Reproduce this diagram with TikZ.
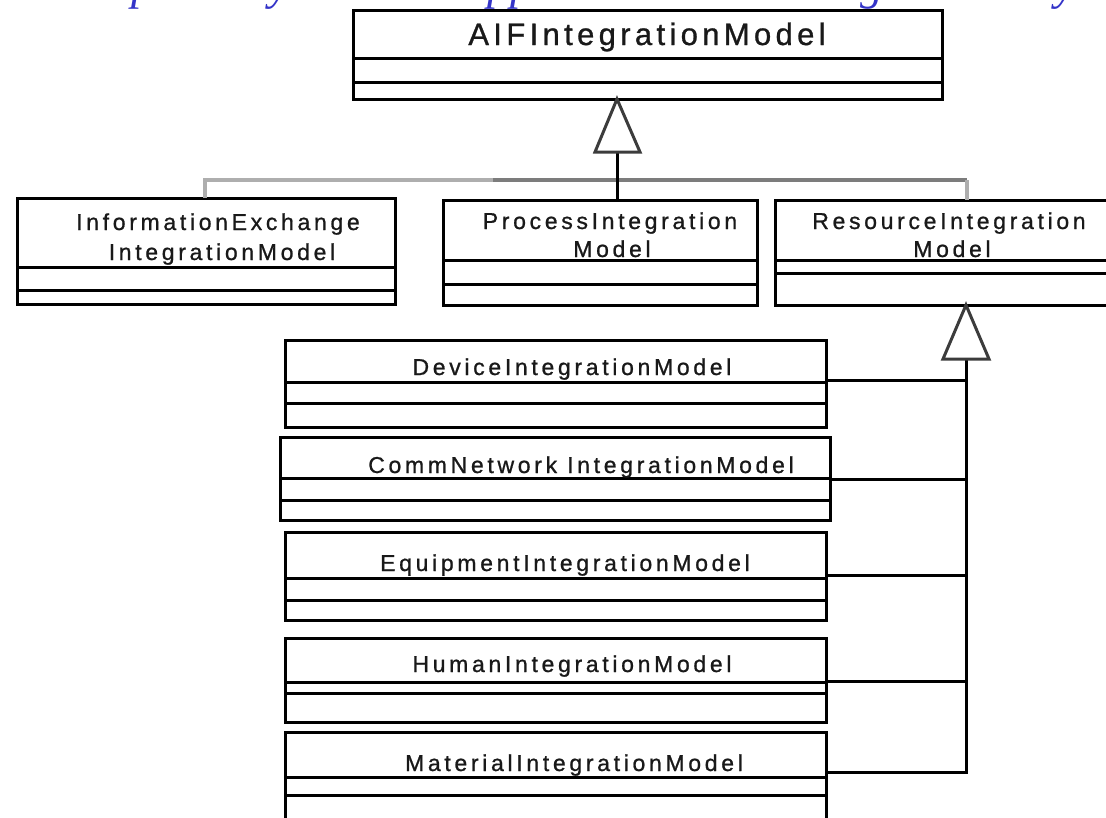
\documentclass[tikz,border=0pt]{standalone}
\usepackage{fontspec}
\setmainfont{Liberation Sans}
\newfontfamily\classfont[LetterSpace=16, FakeBold=0.9]{Liberation Sans}
\newfontfamily\titlefont[LetterSpace=14, FakeBold=0.9]{Liberation Sans}
\newfontfamily\captionfont{Liberation Serif}
\usetikzlibrary{calc}

\definecolor{captionblue}{HTML}{3434C8}
\definecolor{buslight}{HTML}{AEAEAE}
\definecolor{busdark}{HTML}{7C7C7C}
\definecolor{tipgray}{HTML}{3C3C3C}

% one UML class: name, corners (x1,y1) (x2,y2), two compartment lines
\newcommand\umlclass[7]{%
  \node[classbox, minimum width={(#4-#2)*1pt}, minimum height={(#5-#3)*1pt}]
    (#1) at ({(#2+#4)/2},{(#3+#5)/2}) {};
  \draw[divider] (#1.west |- 0,#6) -- (#1.east |- 0,#6);
  \draw[divider] (#1.west |- 0,#7) -- (#1.east |- 0,#7);
}

\begin{document}
\begin{tikzpicture}[x=1pt,y=-1pt,
  classbox/.style={draw=black, line width=3pt, fill=white, inner sep=0pt, outer sep=0pt},
  divider/.style={draw=black, line width=3pt},
  classlabel/.style={inner sep=0pt, anchor=base, text=black!90,
    font=\classfont\fontsize{23}{26}\selectfont},
  titlelabel/.style={inner sep=0pt, anchor=base, text=black!90,
    font=\titlefont\fontsize{31}{36}\selectfont},
  capglyph/.style={inner sep=0pt, anchor=base, text=captionblue,
    font=\captionfont\itshape\fontsize{46}{50}\selectfont},
  genhead/.style={draw=tipgray, fill=white, line width=3pt, line join=miter},
  stem/.style={draw=black, line width=3pt},
  busline/.style={line width=4pt},
]
\useasboundingbox (0,0) rectangle (1106,817);
\clip (0,0) rectangle (1106,817);

% caption line running off the top edge
\node[capglyph] (capA) at (143,-1) {p};
\node[capglyph] (capB) at (280,-1) {y};
\node[capglyph] (capC) at (510,-1) {pp};
\node[capglyph] (capD) at (872,-1) {g};
\node[capglyph] (capE) at (1066,-1) {y};

% classes
\umlclass{aif}{353}{10}{942}{99}{58}{82}
\umlclass{info}{17}{198}{395}{304}{267}{290}
\umlclass{proc}{443}{200}{757}{305}{260}{284}
\umlclass{res}{775}{200}{1125}{305}{260}{273}
\umlclass{dev}{285}{340}{826}{427}{382}{403}
\umlclass{comm}{280}{437}{830}{520}{478}{500}
\umlclass{equip}{285}{532}{826}{620}{578}{600}
\umlclass{human}{285}{638}{826}{722}{682}{693}
\umlclass{mat}{285}{732}{826}{840}{777}{795}

% class names
\node[titlelabel] (aifname) at (647,45) {AIFIntegrationModel};
\node[classlabel] (infoA) at (218,230) {InformationExchange};
\node[classlabel] (infoB) at (222,260) {IntegrationModel};
\node[classlabel] (procA) at (610,229) {ProcessIntegration};
\node[classlabel] (procB) at (612,257) {Model};
\node[classlabel] (resA) at (949,229) {ResourceIntegration};
\node[classlabel] (resB) at (952,257) {Model};
\node[classlabel] (devname) at (572,375) {DeviceIntegrationModel};
\node[classlabel] (commname) at (581,473) {CommNetwork IntegrationModel};
\node[classlabel] (equipname) at (565,571) {EquipmentIntegrationModel};
\node[classlabel] (humanname) at (572,672) {HumanIntegrationModel};
\node[classlabel] (matname) at (574,771) {MaterialIntegrationModel};

% generalization to AIFIntegrationModel
\path (aif.south -| 617,0) coordinate (g1tip);
\coordinate (g1base) at (617,152);
\coordinate (busL) at (205,180);
\coordinate (busM) at (493,180);
\coordinate (busR) at (967,180);
\draw[busline, buslight] (info.north -| busL) -- (busL) -- (busM);
\draw[busline, busdark] (busM) -- (busR);
\draw[busline, buslight] (busR) -- (res.north -| busR);
\draw[stem] (g1base) -- (proc.north -| g1base);
\draw[genhead] (g1tip) -- (595,152) -- (640,152) -- cycle;

% generalization to ResourceIntegrationModel
\path (res.south -| 966,0) coordinate (g2tip);
\coordinate (g2base) at (966,359);
\coordinate (trunkEnd) at (966,772);
\draw[stem] (dev.east |- 0,380) -- (966,380);
\draw[stem] (comm.east |- 0,479) -- (966,479);
\draw[stem] (equip.east |- 0,575) -- (966,575);
\draw[stem] (human.east |- 0,681) -- (966,681);
\draw[stem, line join=miter] (g2base) -- (trunkEnd) -- (mat.east |- trunkEnd);
\draw[genhead] (g2tip) -- (943,359) -- (989,359) -- cycle;
\end{tikzpicture}
\end{document}
